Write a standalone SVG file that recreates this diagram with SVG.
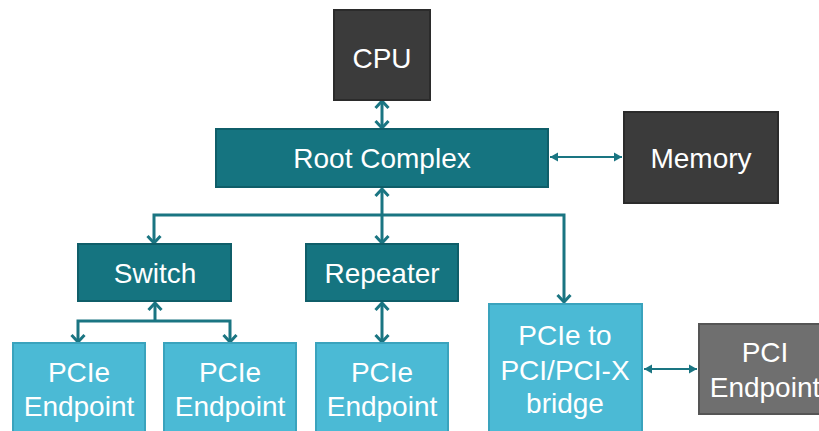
<svg xmlns="http://www.w3.org/2000/svg" width="819" height="431" viewBox="0 0 819 431">
  <style>
    .lbl { font-family: "Liberation Sans", Arial, Helvetica, sans-serif; font-size: 28px; fill: #ffffff; text-anchor: middle; }
    .dark { fill: #3b3b3b; stroke: #2b2b2b; stroke-width: 2; }
    .teal { fill: #157480; stroke: #0f5e69; stroke-width: 2; }
    .light { fill: #4bbad5; stroke: #3aa3bd; stroke-width: 2; }
    .gray { fill: #6f6f6f; stroke: #555555; stroke-width: 2; }
    .wire { fill: none; stroke: #1a7582; stroke-width: 3; }
    .thin { fill: none; stroke: #1a7582; stroke-width: 2; }
  </style>
  <defs>
    <marker id="chev" markerUnits="userSpaceOnUse" viewBox="-9 -8 11 16" markerWidth="11" markerHeight="16" refX="0" refY="0" orient="auto-start-reverse">
      <path d="M-7,-6.5 L0,0 L-7,6.5" fill="none" stroke="#1a7582" stroke-width="3" stroke-linejoin="miter"/>
    </marker>
    <marker id="tri" markerUnits="userSpaceOnUse" viewBox="-9 -6 10 12" markerWidth="10" markerHeight="12" refX="0" refY="0" orient="auto-start-reverse">
      <path d="M-8,-4.5 L0,0 L-8,4.5 Z" fill="#1a7582"/>
    </marker>
  </defs>

  <!-- links -->
  <g id="connectors">
    <path class="wire" d="M382,101 V128" marker-start="url(#chev)" marker-end="url(#chev)"/>
    <path class="wire" d="M382,215 V189" marker-end="url(#chev)"/>
    <path class="wire" d="M154,243 V215 H564 V302" marker-start="url(#chev)" marker-end="url(#chev)"/>
    <path class="wire" d="M382,215 V243" marker-end="url(#chev)"/>
    <path class="thin" d="M550,157 H622" marker-start="url(#tri)" marker-end="url(#tri)"/>
    <path class="wire" d="M155,321 V303" marker-end="url(#chev)"/>
    <path class="wire" d="M78,342 V321 H230 V342" marker-start="url(#chev)" marker-end="url(#chev)"/>
    <path class="wire" d="M382,303 V342" marker-start="url(#chev)" marker-end="url(#chev)"/>
    <path class="thin" d="M644,369 H697" marker-start="url(#tri)" marker-end="url(#tri)"/>
  </g>

  <g id="cpu">
    <rect class="dark" x="334" y="10" width="96" height="90"/>
    <text class="lbl" x="382" y="68">CPU</text>
  </g>
  <g id="root-complex">
    <rect class="teal" x="216" y="129" width="332" height="58"/>
    <text class="lbl" x="382" y="168">Root Complex</text>
  </g>
  <g id="memory">
    <rect class="dark" x="624" y="112" width="154" height="91"/>
    <text class="lbl" x="701" y="168">Memory</text>
  </g>
  <g id="switch">
    <rect class="teal" x="78" y="244" width="153" height="57"/>
    <text class="lbl" x="155" y="283">Switch</text>
  </g>
  <g id="repeater">
    <rect class="teal" x="306" y="244" width="152" height="57"/>
    <text class="lbl" x="382" y="283">Repeater</text>
  </g>
  <g id="endpoint-1">
    <rect class="light" x="13" y="343" width="132" height="100"/>
    <text class="lbl" x="79" y="382">PCIe</text>
    <text class="lbl" x="79" y="416">Endpoint</text>
  </g>
  <g id="endpoint-2">
    <rect class="light" x="164" y="343" width="132" height="100"/>
    <text class="lbl" x="230" y="382">PCIe</text>
    <text class="lbl" x="230" y="416">Endpoint</text>
  </g>
  <g id="endpoint-3">
    <rect class="light" x="316" y="343" width="132" height="100"/>
    <text class="lbl" x="382" y="382">PCIe</text>
    <text class="lbl" x="382" y="416">Endpoint</text>
  </g>
  <g id="bridge">
    <rect class="light" x="489" y="304" width="153" height="140"/>
    <text class="lbl" x="565" y="345">PCIe to</text>
    <text class="lbl" x="565" y="380">PCI/PCI-X</text>
    <text class="lbl" x="565" y="413">bridge</text>
  </g>
  <g id="pci-endpoint">
    <rect class="gray" x="699" y="324" width="132" height="90"/>
    <text class="lbl" x="765" y="362">PCI</text>
    <text class="lbl" x="765" y="397">Endpoint</text>
  </g>
</svg>
